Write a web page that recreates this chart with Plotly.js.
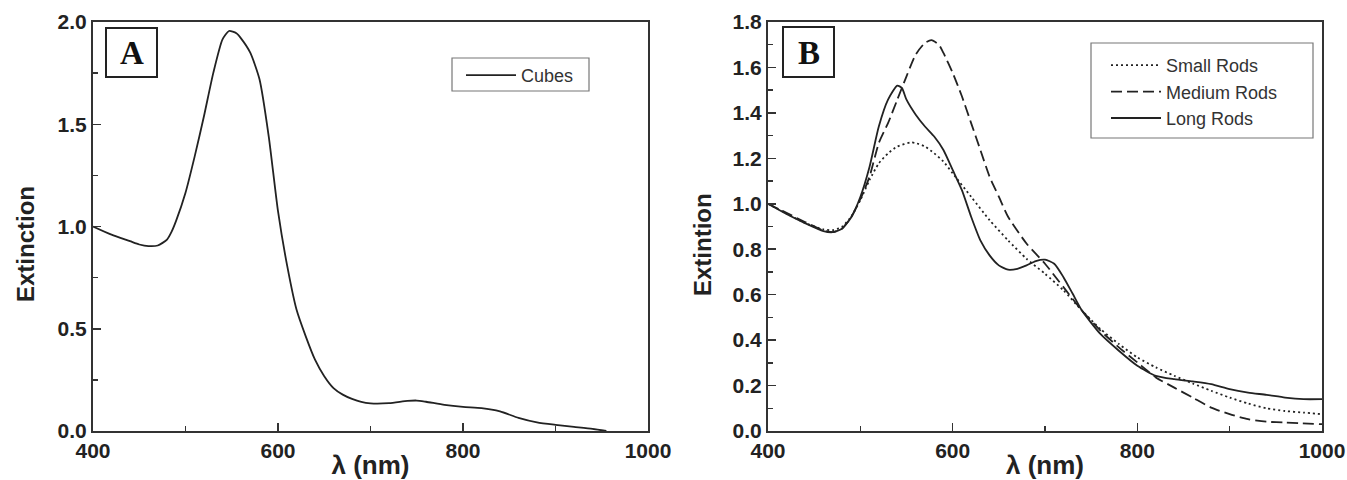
<!DOCTYPE html>
<html>
<head>
<meta charset="utf-8">
<script src="https://cdn.plot.ly/plotly-3.0.1.min.js"></script>
<style>html,body{margin:0;padding:0;background:#fff;}#chart{width:1347px;height:480px;}</style>
</head>
<body>
<div id="chart"></div>
<script>
// Panel A – Cubes
const wlCubes = [400,420,440,450,460,470,480,485,490,500,510,520,530,540,547,555,560,570,580,590,600,610,620,630,640,650,660,670,680,690,700,720,740,750,760,780,800,820,840,860,880,900,920,940,955];
const extCubes = [1.0,0.96,0.928,0.912,0.904,0.907,0.936,0.975,1.03,1.165,1.344,1.54,1.75,1.915,1.956,1.945,1.92,1.85,1.72,1.44,1.075,0.806,0.594,0.463,0.349,0.268,0.21,0.178,0.157,0.142,0.135,0.136,0.147,0.149,0.143,0.128,0.118,0.112,0.096,0.064,0.042,0.03,0.02,0.01,0.0];

// Panel B – Rods
const wlSmall = [400,420,440,460,470,480,490,500,510,520,530,540,555,560,570,580,590,600,620,640,660,680,700,720,740,760,780,800,820,840,860,880,900,920,940,960,980,1000];
const extSmall = [1.0,0.957,0.916,0.887,0.884,0.898,0.943,1.016,1.105,1.178,1.222,1.252,1.27,1.267,1.252,1.222,1.186,1.134,1.031,0.928,0.839,0.758,0.692,0.619,0.53,0.449,0.383,0.324,0.28,0.243,0.209,0.177,0.147,0.121,0.1,0.088,0.081,0.074];

const wlMedium = [400,420,440,460,470,480,490,500,510,520,530,540,550,560,570,577,585,590,600,610,620,630,640,650,660,680,700,720,740,760,780,800,820,840,860,880,900,920,940,960,1000];
const extMedium = [1.0,0.96,0.92,0.882,0.875,0.89,0.94,1.02,1.12,1.267,1.355,1.458,1.561,1.657,1.708,1.72,1.70,1.664,1.576,1.473,1.355,1.237,1.119,1.031,0.943,0.825,0.736,0.633,0.53,0.442,0.368,0.302,0.236,0.191,0.147,0.103,0.074,0.052,0.041,0.037,0.03];

const wlLong = [400,420,440,460,470,480,490,500,510,520,530,540,545,550,560,570,580,590,600,610,620,630,640,650,660,670,680,690,700,710,720,730,740,760,780,800,820,840,860,880,900,920,940,960,980,1000];
const extLong = [1.0,0.955,0.915,0.88,0.875,0.89,0.94,1.03,1.163,1.34,1.458,1.52,1.51,1.458,1.392,1.34,1.296,1.237,1.149,1.06,0.943,0.839,0.773,0.729,0.71,0.714,0.729,0.748,0.754,0.736,0.677,0.604,0.53,0.427,0.353,0.287,0.243,0.228,0.218,0.206,0.184,0.169,0.159,0.147,0.14,0.14];

const xTicks = [400,600,800,1000];
const yTicksA = [0,0.5,1.0,1.5,2.0];
const yTicksB = [0,0.2,0.4,0.6,0.8,1.0,1.2,1.4,1.6,1.8];

const ink = '#222';
const lineStyle = {color: ink, width: 1.8, shape: 'spline', smoothing: 0.6};

const traces = [
  {x: wlCubes, y: extCubes, name: 'Cubes', mode: 'lines', xaxis: 'x', yaxis: 'y', legend: 'legend',
   line: Object.assign({}, lineStyle)},
  {x: wlSmall, y: extSmall, name: 'Small Rods', mode: 'lines', xaxis: 'x2', yaxis: 'y2', legend: 'legend2', legendgroup: 'a',
   line: Object.assign({}, lineStyle, {dash: '2px,3px'})},
  {x: wlMedium, y: extMedium, name: 'Medium Rods', mode: 'lines', xaxis: 'x2', yaxis: 'y2', legend: 'legend2', legendgroup: 'b',
   line: Object.assign({}, lineStyle, {dash: '11px,5px'})},
  {x: wlLong, y: extLong, name: 'Long Rods', mode: 'lines', xaxis: 'x2', yaxis: 'y2', legend: 'legend2', legendgroup: 'c',
   line: Object.assign({}, lineStyle)}
];

const W = 1347, H = 480;
const FAM = 'Liberation Sans, Arial, sans-serif';
const tickFont = {family: FAM, size: 21, color: '#222', weight: 700};
const xTitleFont = {family: FAM, size: 26, color: '#222', weight: 700};
const yTitleFont = {family: FAM, size: 24, color: '#222', weight: 700};

function xAxis(domain) {
  return {
    domain: domain, range: [400, 1000], tickvals: xTicks, ticktext: xTicks.map(String),
    ticks: 'inside', ticklen: 8, tickwidth: 1.5, tickcolor: '#333',
    minor: {ticks: 'inside', ticklen: 5, tickwidth: 1.5, tickcolor: '#333', dtick: 100, tick0: 400, showgrid: false},
    showline: true, mirror: true, linewidth: 2, linecolor: '#333',
    showgrid: false, zeroline: false, tickfont: tickFont, ticklabelstandoff: 0,
    title: {text: 'λ (nm)', font: xTitleFont, standoff: 0}, fixedrange: true
  };
}
function yAxis(range, ticks, dminor, anchor) {
  return {
    domain: [49 / H, 1 - 22 / H], range: range, tickvals: ticks, ticktext: ticks.map(v => v.toFixed(1)),
    ticks: 'inside', ticklen: 8, tickwidth: 1.5, tickcolor: '#333',
    minor: {ticks: 'inside', ticklen: 5, tickwidth: 1.5, tickcolor: '#333', dtick: dminor, tick0: 0, showgrid: false},
    showline: true, mirror: true, linewidth: 2, linecolor: '#333',
    showgrid: false, zeroline: false, tickfont: tickFont, anchor: anchor, fixedrange: true
  };
}

const legBase = {
  bgcolor: 'rgba(0,0,0,0)', borderwidth: 0,
  font: {family: FAM, size: 18, color: '#333'},
  xanchor: 'left', yanchor: 'top', tracegroupgap: 0, traceorder: 'grouped', itemwidth: 50
};

const titleY = {textangle: -90, xref: 'paper', yref: 'paper', showarrow: false, xanchor: 'center', yanchor: 'middle',
  font: yTitleFont};

const layout = {
  width: W, height: H,
  margin: {l: 0, r: 0, t: 0, b: 0},
  paper_bgcolor: '#fff', plot_bgcolor: '#fff',
  showlegend: true,
  xaxis: Object.assign(xAxis([93 / W, 648 / W]), {anchor: 'y'}),
  yaxis: yAxis([0, 2.0], yTicksA, 0.25, 'x'),
  xaxis2: Object.assign(xAxis([768 / W, 1322 / W]), {anchor: 'y2'}),
  yaxis2: yAxis([0, 1.8], yTicksB, 0.1, 'x2'),
  legend: Object.assign({}, legBase, {x: 461 / W, y: 1 - 57 / H}),
  legend2: Object.assign({}, legBase, {x: 1106 / W, y: 1 - 47 / H}),
  shapes: [
    {type: 'rect', xref: 'paper', yref: 'paper', x0: 106 / W, x1: 157 / W, y0: 1 - 77 / H, y1: 1 - 28 / H, line: {color: '#222', width: 2}},
    {type: 'rect', xref: 'paper', yref: 'paper', x0: 783 / W, x1: 834 / W, y0: 1 - 77 / H, y1: 1 - 27 / H, line: {color: '#222', width: 2}},
    {type: 'rect', xref: 'paper', yref: 'paper', x0: 452 / W, x1: 589 / W, y0: 1 - 91 / H, y1: 1 - 58 / H, line: {color: '#777', width: 1.2}},
    {type: 'rect', xref: 'paper', yref: 'paper', x0: 1091 / W, x1: 1313 / W, y0: 1 - 138 / H, y1: 1 - 43 / H, line: {color: '#777', width: 1.2}}
  ],
  annotations: [
    Object.assign({text: 'Extinction', x: 25 / W, y: 1 - 244 / H}, titleY),
    Object.assign({text: 'Extintion', x: 702 / W, y: 1 - 244 / H}, titleY),
    {text: 'A', xref: 'paper', yref: 'paper', x: 131.5 / W, y: 1 - 53 / H, showarrow: false, xanchor: 'center', yanchor: 'middle',
     font: {family: 'Liberation Serif, Times New Roman, serif', size: 33, color: '#111', weight: 700}},
    {text: 'B', xref: 'paper', yref: 'paper', x: 808.5 / W, y: 1 - 53 / H, showarrow: false, xanchor: 'center', yanchor: 'middle',
     font: {family: 'Liberation Serif, Times New Roman, serif', size: 33, color: '#111', weight: 700}}
  ]
};

Plotly.newPlot('chart', traces, layout, {displayModeBar: false, staticPlot: true});
</script>
</body>
</html>
